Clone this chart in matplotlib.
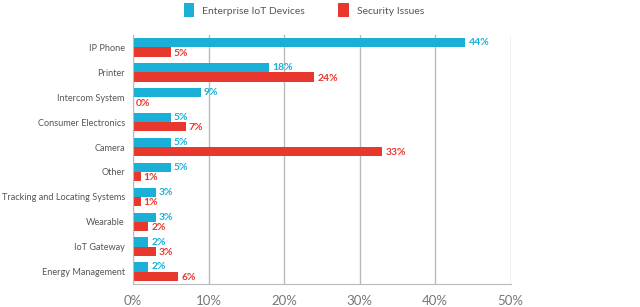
"""Enterprise IoT devices vs. security issues, horizontal grouped bars."""

import numpy as np
import matplotlib.pyplot as plt

categories = [
    "IP Phone",
    "Printer",
    "Intercom System",
    "Consumer Electronics",
    "Camera",
    "Other",
    "Tracking and Locating Systems",
    "Wearable",
    "IoT Gateway",
    "Energy Management",
]
devices = [44, 18, 9, 5, 5, 5, 3, 3, 2, 2]
issues = [5, 24, 0, 7, 33, 1, 1, 2, 3, 6]
ticks = [0, 10, 20, 30, 40, 50]

BLUE = "#1aafd6"
RED = "#e8382e"
GREY = "#777777"

plt.rcParams["font.family"] = ["Lato", "DejaVu Sans"]

fig = plt.figure(figsize=(6.4, 3.07), dpi=100)
ax = fig.add_axes([0.208, 0.075, 0.59, 0.811])

y = np.arange(len(categories))
h = 0.37
ax.barh(y - h / 2, devices, height=h, color=BLUE, label="Enterprise IoT Devices")
ax.barh(y + h / 2, issues, height=h, color=RED, label="Security Issues")

for yi, v in zip(y, devices):
    ax.text(v + 0.4, yi - h / 2, f"{v}%", color=BLUE, fontsize=7.5,
            fontweight="bold", va="center", ha="left")
for yi, v in zip(y, issues):
    ax.text(v + 0.4, yi + h / 2 + 0.05, f"{v}%", color=RED, fontsize=7.5,
            fontweight="bold", va="center", ha="left")

ax.set_xlim(0, 50)
ax.set_ylim(len(categories) - 0.5, -0.5)
ax.set_yticks(y)
ax.set_yticklabels(categories, fontsize=6.6, color="#555555")
ax.set_xticks(ticks)
ax.set_xticklabels([f"{t}%" for t in ticks], fontsize=9.5, color=GREY)
ax.tick_params(axis="both", length=0)
ax.tick_params(axis="y", pad=6)
ax.tick_params(axis="x", pad=8)

ax.grid(axis="x", color="#bbbbbb", linewidth=1)
ax.set_axisbelow(True)
for side in ["top", "right"]:
    ax.spines[side].set_visible(False)
ax.spines["left"].set_color("#bbbbbb")
ax.spines["bottom"].set_color("#bbbbbb")

fig.legend(loc="upper center", bbox_to_anchor=(0.475, 1.02), ncol=2, frameon=False,
           fontsize=7.5, handlelength=1.0, handleheight=1.7, columnspacing=3.2,
           labelcolor="#555555")

plt.savefig("out.png")
